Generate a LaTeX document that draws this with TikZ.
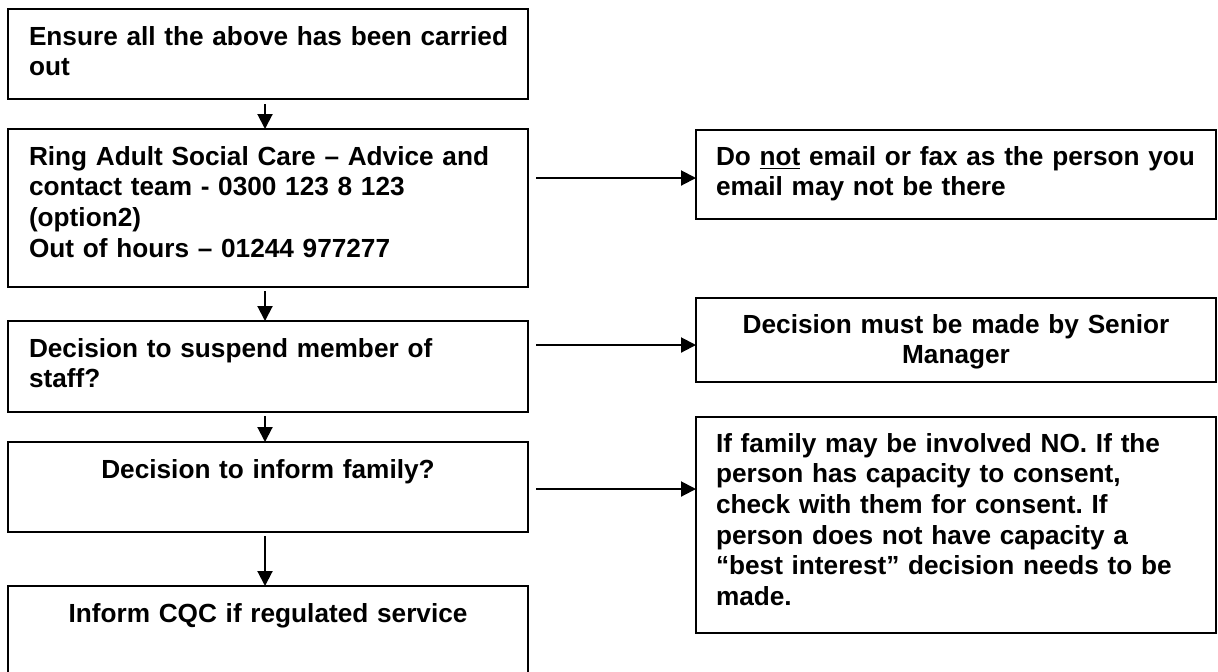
\documentclass[tikz,border=0pt]{standalone}
\usepackage{fontspec}
\setmainfont{Liberation Sans}
\usetikzlibrary{arrows.meta}
\newcommand{\myul}[1]{\underline{#1}}
\begin{document}
\frenchspacing
\begin{tikzpicture}[x=0.5pt,y=-0.5pt,
  box/.style={draw=black,line width=1pt,rectangle,inner sep=0pt,outer sep=0pt,minimum width=260pt},
  ltext/.style={inner sep=0pt,outer sep=0pt,text width=250pt,align=left,anchor=base west,
    font=\fontsize{13.1pt}{15.35pt}\selectfont\bfseries\frenchspacing},
  ctext/.style={inner sep=0pt,outer sep=0pt,text width=250pt,align=center,anchor=base,
    font=\fontsize{13.1pt}{15.35pt}\selectfont\bfseries\frenchspacing},
  arr/.style={line width=1pt,-{Triangle[length=7.5pt,width=7.5pt]}}]
\useasboundingbox (0,0) rectangle (1218,671);
\fill[white] (0,0) rectangle (1218,671);
\clip (0,0) rectangle (1218,671);
% left column
\node[box,minimum height=45pt] (b1) at (268,54) {};
\node[box,minimum height=79pt] (b2) at (268,208) {};
\node[box,minimum height=45.5pt] (b3) at (268,366.5) {};
\node[box,minimum height=45pt] (b4) at (268,487) {};
\node[box,minimum height=45pt] (b5) at (268,631) {};
\node[ltext] (t1) at (29,45) {Ensure all the above has been carried\\out};
\node[ltext] (t2) at (29,165) {Ring Adult Social Care – Advice and\\contact team - 0300 123 8 123\\(option2)\\Out of hours – 01244 977277};
\node[ltext] (t3) at (29,357) {Decision to suspend member of\\staff?};
\node[ctext] (t4) at (268,478) {Decision to inform family?};
\node[ctext] (t5) at (268,622) {Inform CQC if regulated service};
% right column
\node[box,minimum height=44.5pt] (r1) at (956,174.5) {};
\node[box,minimum height=42pt] (r2) at (956,340) {};
\node[box,minimum height=108pt] (r3) at (956,525) {};
\node[ltext] (u1) at (716,165) {Do \myul{not} email or fax as the person you\\email may not be there};
\node[ctext] (u2) at (956,333) {Decision must be made by Senior\\Manager};
\node[ltext] (u3) at (716,452) {If family may be involved NO. If the\\person has capacity to consent,\\check with them for consent. If\\person does not have capacity a\\“best interest” decision needs to be\\made.};
% vertical arrows
\draw[arr] ([xshift=-1.5pt,yshift=-2.5pt]b1.south) -- ([xshift=-1.5pt]b2.north);
\draw[arr] ([xshift=-1.5pt,yshift=-2pt]b2.south) -- ([xshift=-1.5pt]b3.north);
\draw[arr] ([xshift=-1.5pt,yshift=-2pt]b3.south) -- ([xshift=-1.5pt]b4.north);
\draw[arr] ([xshift=-1.5pt,yshift=-2pt]b4.south) -- ([xshift=-1.5pt]b5.north);
% horizontal arrows
\coordinate (h1) at (536,178);
\coordinate (h2) at (536,345);
\coordinate (h3) at (536,489);
\draw[arr] (h1) -- (h1 -| r1.west);
\draw[arr] (h2) -- (h2 -| r2.west);
\draw[arr] (h3) -- (h3 -| r3.west);
\end{tikzpicture}
\end{document}
